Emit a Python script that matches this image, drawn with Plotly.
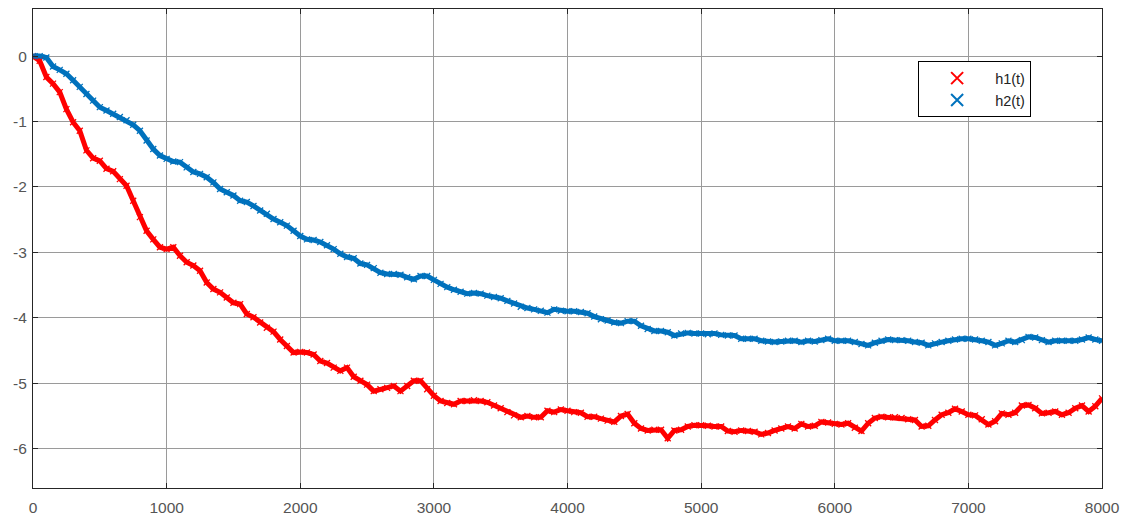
import plotly.graph_objects as go

# sample times (every 50 steps)
t = list(range(0, 8001, 50))

h1 = [0, -0.07, -0.32, -0.42, -0.55, -0.81, -1.01, -1.14, -1.44, -1.56, -1.6, -1.72, -1.76, -1.88, -1.98, -2.21, -2.46, -2.67, -2.8, -2.92, -2.95,
      -2.92, -3.05, -3.15, -3.2, -3.28, -3.46, -3.56, -3.61, -3.69, -3.77, -3.79, -3.94, -3.99, -4.07, -4.15, -4.21, -4.33, -4.43, -4.53, -4.52,
      -4.53, -4.56, -4.66, -4.69, -4.76, -4.81, -4.76, -4.9, -4.96, -5.02, -5.12, -5.09, -5.07, -5.04, -5.12, -5.04, -4.96, -4.96, -5.09, -5.19,
      -5.27, -5.3, -5.32, -5.27, -5.27, -5.26, -5.27, -5.29, -5.34, -5.38, -5.44, -5.49, -5.52, -5.5, -5.52, -5.52, -5.42, -5.44, -5.4, -5.42,
      -5.44, -5.45, -5.51, -5.51, -5.54, -5.57, -5.59, -5.5, -5.47, -5.61, -5.69, -5.72, -5.71, -5.71, -5.84, -5.72, -5.71, -5.66, -5.64, -5.64,
      -5.65, -5.66, -5.66, -5.73, -5.74, -5.72, -5.73, -5.74, -5.78, -5.76, -5.72, -5.69, -5.66, -5.69, -5.62, -5.66, -5.65, -5.59, -5.6, -5.62,
      -5.63, -5.61, -5.68, -5.73, -5.61, -5.53, -5.51, -5.52, -5.52, -5.53, -5.55, -5.56, -5.66, -5.65, -5.56, -5.48, -5.45, -5.39, -5.43, -5.48,
      -5.49, -5.55, -5.63, -5.58, -5.46, -5.48, -5.45, -5.34, -5.33, -5.38, -5.46, -5.45, -5.43, -5.48, -5.45, -5.38, -5.34, -5.43, -5.35, -5.23]

h2 = [0, 0, -0.02, -0.16, -0.21, -0.27, -0.37, -0.47, -0.58, -0.68, -0.78, -0.83, -0.88, -0.93, -0.98, -1.05, -1.14, -1.29, -1.42, -1.52, -1.57,
      -1.61, -1.62, -1.7, -1.77, -1.8, -1.85, -1.93, -2.03, -2.08, -2.13, -2.21, -2.23, -2.29, -2.36, -2.41, -2.49, -2.54, -2.59, -2.67, -2.75,
      -2.8, -2.81, -2.84, -2.89, -2.95, -3.02, -3.07, -3.09, -3.17, -3.19, -3.24, -3.31, -3.33, -3.33, -3.34, -3.38, -3.41, -3.36, -3.36, -3.42,
      -3.48, -3.53, -3.57, -3.6, -3.63, -3.62, -3.63, -3.66, -3.68, -3.7, -3.74, -3.78, -3.83, -3.85, -3.87, -3.89, -3.92, -3.87, -3.89, -3.9,
      -3.9, -3.91, -3.93, -3.98, -4.02, -4.04, -4.07, -4.08, -4.05, -4.05, -4.12, -4.17, -4.2, -4.2, -4.22, -4.27, -4.24, -4.23, -4.24, -4.24,
      -4.25, -4.24, -4.26, -4.27, -4.27, -4.32, -4.32, -4.32, -4.35, -4.36, -4.37, -4.36, -4.35, -4.35, -4.37, -4.35, -4.36, -4.34, -4.32, -4.35,
      -4.35, -4.35, -4.37, -4.4, -4.42, -4.38, -4.35, -4.33, -4.34, -4.34, -4.35, -4.37, -4.38, -4.42, -4.39, -4.37, -4.35, -4.33, -4.32, -4.32,
      -4.33, -4.35, -4.37, -4.42, -4.39, -4.35, -4.37, -4.34, -4.29, -4.3, -4.34, -4.37, -4.35, -4.35, -4.35, -4.35, -4.33, -4.3, -4.33, -4.35]

series_names = ["h1(t)", "h2(t)"]
colors = ["#FF0000", "#0072BD"]
x_ticks = [0, 1000, 2000, 3000, 4000, 5000, 6000, 7000, 8000]
y_ticks = [-6, -5, -4, -3, -2, -1, 0]

fig = go.Figure()
for name, ys, c in zip(series_names, [h1, h2], colors):
    fig.add_trace(go.Scatter(x=t, y=ys, mode="lines", line=dict(color=c, width=5),
                             showlegend=False, hoverinfo="skip"))
for name, ys, c in zip(series_names, [h1, h2], colors):
    fig.add_trace(go.Scatter(x=t, y=ys, mode="markers", name=name,
                             marker=dict(symbol="x-thin", size=6, line=dict(color=c, width=1.3))))

font_fam = "Liberation Sans, Arial, sans-serif"
axis_common = dict(showgrid=True, gridcolor="#9a9a9a", gridwidth=1, zeroline=False,
                   showline=True, linecolor="#262626", linewidth=1, mirror="ticks",
                   ticks="inside", ticklen=5, tickcolor="#262626", automargin=False,
                   tickfont=dict(family=font_fam, size=15.5, color="#555555"))

fig.update_xaxes(range=[0, 8000], tickvals=x_ticks, ticktext=[str(v) for v in x_ticks],
                 ticklabelstandoff=5, **axis_common)
fig.update_yaxes(range=[-6.6, 0.72], tickvals=y_ticks, ticktext=[str(v) for v in y_ticks],
                 ticklabelstandoff=2, **axis_common)

fig.update_layout(
    width=1123, height=516,
    margin=dict(l=33, r=21, t=9, b=28),
    paper_bgcolor="white", plot_bgcolor="white",
    legend=dict(x=0.828, y=0.891, xanchor="left", yanchor="top",
                bgcolor="white", bordercolor="#000000", borderwidth=1,
                font=dict(family=font_fam, size=14.5, color="#222222"),
                itemsizing="constant", itemwidth=66, tracegroupgap=0),
)

fig.write_html("out.html")
